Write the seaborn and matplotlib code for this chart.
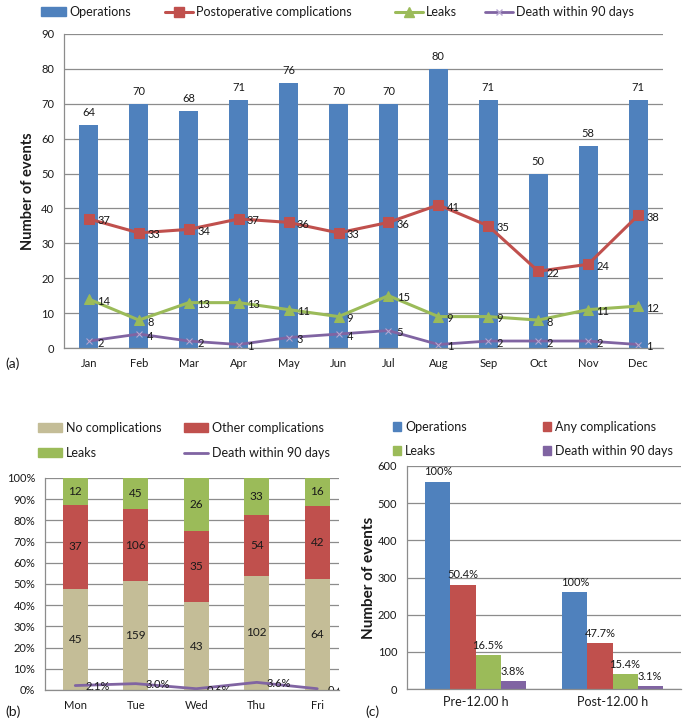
import numpy as np
import pandas as pd
import matplotlib
matplotlib.use("Agg")
import matplotlib.pyplot as plt
import seaborn as sns
from matplotlib.patches import Patch
from matplotlib.lines import Line2D

# ── DATA ──────────────────────────────────────────────────────
# (a) events by month
months = ["Jan", "Feb", "Mar", "Apr", "May", "Jun",
          "Jul", "Aug", "Sep", "Oct", "Nov", "Dec"]
operations = [64, 70, 68, 71, 76, 70, 70, 80, 71, 50, 58, 71]
complications = [37, 33, 34, 37, 36, 33, 36, 41, 35, 22, 24, 38]
leaks = [14, 8, 13, 13, 11, 9, 15, 9, 9, 8, 11, 12]
deaths = [2, 4, 2, 1, 3, 4, 5, 1, 2, 2, 2, 1]

# (b) outcome share by weekday (counts on the bars)
weekdays = ["Mon", "Tue", "Wed", "Thu", "Fri"]
no_compl = [45, 159, 43, 102, 64]
other_compl = [37, 106, 35, 54, 42]
leaks_day = [12, 45, 26, 33, 16]
death_pct_day = [2.1, 3.0, 0.6, 3.6, 0.6]

# (c) events before / after noon
periods = ["Pre-12.00 h", "Post-12.00 h"]
groups = ["Operations", "Any complications", "Leaks", "Death within 90 days"]
period_ops = [558, 261]
period_compl = [281, 124]
period_leaks = [92, 40]
period_deaths = [21, 8]
period_pct = {
    "Operations": ["100%", "100%"],
    "Any complications": ["50.4%", "47.7%"],
    "Leaks": ["16.5%", "15.4%"],
    "Death within 90 days": ["3.8%", "3.1%"],
}

# ── STYLE ─────────────────────────────────────────────────────
BLUE = "#4F81BD"
RED = "#C0504D"
GREEN = "#9BBB59"
PURPLE = "#8064A2"
TAN = "#C4BD97"
GRID = "#8C8C8C"
TXT = "#1a1a1a"

sns.set_style("white")
plt.rcParams["font.family"] = ["Lato", "DejaVu Sans"]
plt.rcParams["text.color"] = TXT
plt.rcParams["axes.labelcolor"] = TXT
plt.rcParams["xtick.color"] = TXT
plt.rcParams["ytick.color"] = TXT

W, H = 685, 720
fig = plt.figure(figsize=(W / 100, H / 100), dpi=100)


def px_axes(left, top, right, bottom):
    # axes placed by pixel box of the reference picture
    return fig.add_axes([left / W, 1 - bottom / H,
                         (right - left) / W, (bottom - top) / H])


def style_axes(ax, n, ymax, step, xlim_right=None, tick_fs=8, ylab_fs=8,
               xpad=7):
    ax.set_ylim(0, ymax)
    ax.set_yticks(np.arange(0, ymax + step / 2, step))
    ax.yaxis.grid(True, color=GRID, lw=0.9)
    ax.set_axisbelow(True)
    for s in ["top", "right"]:
        ax.spines[s].set_visible(False)
    for s in ["left", "bottom"]:
        ax.spines[s].set_color(GRID)
        ax.spines[s].set_linewidth(0.9)
    ax.set_xticks(range(n))
    ax.set_xticks(np.arange(-0.5, n, 1), minor=True)
    ax.set_xlim(-0.5, n - 0.5 if xlim_right is None else xlim_right)
    ax.tick_params(axis="x", which="major", length=0, pad=xpad,
                   labelsize=tick_fs)
    ax.tick_params(axis="x", which="minor", length=4, color=GRID, width=0.9)
    ax.tick_params(axis="y", length=4, color=GRID, width=0.9, pad=3,
                   labelsize=ylab_fs)
    ax.set_xlabel("")
    ax.set_ylabel("")


def px_legend(handles, labels, x, y_top, fs, hl, hh, spacing):
    leg = fig.legend(handles, labels, loc="upper left",
                     bbox_to_anchor=(x / W, 1 - y_top / H),
                     frameon=False, fontsize=fs, handlelength=hl,
                     handleheight=hh, handletextpad=0.3, borderpad=0,
                     borderaxespad=0, labelspacing=spacing)
    return leg


# ── PANEL (a) ─────────────────────────────────────────────────
ax_a = px_axes(64, 34, 663, 348)
x_m = np.arange(len(months))
sns.barplot(x=months, y=operations, color=BLUE, saturation=1,
            width=0.38, linewidth=0, ax=ax_a)
for i, v in enumerate(operations):
    ax_a.annotate(str(v), (i, v), xytext=(0, 5), textcoords="offset points",
                  ha="center", va="bottom", fontsize=8)

sns.lineplot(x=x_m, y=complications, color=RED, lw=2.2, marker="s",
             markersize=6.5, markeredgecolor=RED, legend=False, ax=ax_a)
sns.lineplot(x=x_m, y=leaks, color=GREEN, lw=2.2, marker="^",
             markersize=7, markeredgecolor=GREEN, legend=False, ax=ax_a)
sns.lineplot(x=x_m, y=deaths, color=PURPLE, lw=2.0, marker="x",
             markersize=4, markeredgecolor="#b7a6d0", legend=False, ax=ax_a)
for series in [complications, leaks, deaths]:
    for i, v in enumerate(series):
        ax_a.annotate(str(v), (i, v), xytext=(6, -1.5),
                      textcoords="offset points", ha="left", va="center",
                      fontsize=8)

style_axes(ax_a, len(months), 90, 10, tick_fs=8, ylab_fs=8)
ax_a.set_xticklabels(months)
ax_a.set_ylabel("Number of events", fontsize=10.5, fontweight="bold")
ax_a.yaxis.set_label_coords((35 - 64) / (663 - 64), 0.5)
fig.text(5 / W, 1 - 364 / H, "(a)", fontsize=10, va="center", ha="left")

px_legend([Patch(color=BLUE)], ["Operations"], 41, 6, 9, 2.0, 0.75, 0.5)
px_legend([Line2D([], [], color=RED, lw=2.2, marker="s", ms=6.5)],
          ["Postoperative complications"], 165, 6, 9, 2.2, 0.75, 0.5)
px_legend([Line2D([], [], color=GREEN, lw=2.2, marker="^", ms=7)],
          ["Leaks"], 395, 6, 9, 2.2, 0.75, 0.5)
px_legend([Line2D([], [], color=PURPLE, lw=2.0, marker="x", ms=4,
                  markeredgecolor="#b7a6d0")],
          ["Death within 90 days"], 485, 6, 9, 2.2, 0.75, 0.5)

# ── PANEL (b) ─────────────────────────────────────────────────
ax_b = px_axes(45, 478, 339, 690)
day_total = np.array(no_compl) + np.array(other_compl) + np.array(leaks_day)
pct_no = np.array(no_compl) / day_total * 100
pct_mid = (np.array(no_compl) + np.array(other_compl)) / day_total * 100
pct_all = day_total / day_total * 100

df_b = pd.DataFrame({"day": weekdays, "all": pct_all, "mid": pct_mid,
                     "no": pct_no})
# overlapping bars give the stacked look
sns.barplot(data=df_b, x="day", y="all", color=GREEN, saturation=1,
            width=0.41, linewidth=0, ax=ax_b)
sns.barplot(data=df_b, x="day", y="mid", color=RED, saturation=1,
            width=0.41, linewidth=0, ax=ax_b)
sns.barplot(data=df_b, x="day", y="no", color=TAN, saturation=1,
            width=0.41, linewidth=0, ax=ax_b)

for i in range(len(weekdays)):
    ax_b.text(i, pct_no[i] / 2, str(no_compl[i]), ha="center", va="center",
              fontsize=8.5)
    ax_b.text(i, (pct_no[i] + pct_mid[i]) / 2, str(other_compl[i]),
              ha="center", va="center", fontsize=8.5)
    ax_b.text(i, (pct_mid[i] + pct_all[i]) / 2, str(leaks_day[i]),
              ha="center", va="center", fontsize=8.5)

sns.lineplot(x=np.arange(len(weekdays)), y=death_pct_day, color=PURPLE,
             lw=2.0, legend=False, ax=ax_b)
for i, v in enumerate(death_pct_day):
    ax_b.text(i + 0.17, v - 0.6, f"{v:.1f}%", ha="left", va="center",
              fontsize=8, clip_on=True)

style_axes(ax_b, len(weekdays), 100, 10,
           xlim_right=-0.5 + (339 - 45) / 60.5, tick_fs=8, ylab_fs=8)
ax_b.set_xticklabels(weekdays)
ax_b.set_yticklabels([f"{t}%" for t in range(0, 101, 10)])
fig.text(5 / W, 1 - 712 / H, "(b)", fontsize=10, va="center", ha="left")

px_legend([Patch(color=TAN), Patch(color=GREEN)],
          ["No complications", "Leaks"], 38, 422, 9, 1.9, 0.7, 1.05)
px_legend([Patch(color=RED), Line2D([], [], color=PURPLE, lw=2)],
          ["Other complications", "Death within 90 days"], 184, 422, 9,
          1.9, 0.7, 1.05)

# ── PANEL (c) ─────────────────────────────────────────────────
ax_c = px_axes(407, 466, 681, 689)
df_c = pd.DataFrame({
    "period": periods * 4,
    "group": [g for g in groups for _ in periods],
    "value": period_ops + period_compl + period_leaks + period_deaths,
})
sns.barplot(data=df_c, x="period", y="value", hue="group",
            hue_order=groups, palette=[BLUE, RED, GREEN, PURPLE],
            saturation=1, width=0.73, linewidth=0, legend=False, ax=ax_c)
bar_w = 0.73 / len(groups)
for gi, g in enumerate(groups):
    vals = df_c[df_c["group"] == g]["value"].tolist()
    for pi, v in enumerate(vals):
        xc = pi - 0.73 / 2 + bar_w * (gi + 0.5)
        ax_c.annotate(period_pct[g][pi], (xc, v), xytext=(0, 3),
                      textcoords="offset points", ha="center", va="bottom",
                      fontsize=8)

style_axes(ax_c, len(periods), 600, 100, tick_fs=9, ylab_fs=8, xpad=5)
ax_c.set_xticklabels(periods)
ax_c.set_ylabel("Number of events", fontsize=11, fontweight="bold")
ax_c.yaxis.set_label_coords((376 - 407) / (681 - 407), 0.5)
fig.text(365 / W, 1 - 712 / H, "(c)", fontsize=10, va="center", ha="left")

px_legend([Patch(color=BLUE), Patch(color=GREEN)],
          ["Operations", "Leaks"], 393, 421, 9, 0.65, 0.65, 0.95)
px_legend([Patch(color=RED), Patch(color=PURPLE)],
          ["Any complications", "Death within 90 days"], 543, 421, 9,
          0.65, 0.65, 0.95)

fig.savefig("out.png", dpi=100)
